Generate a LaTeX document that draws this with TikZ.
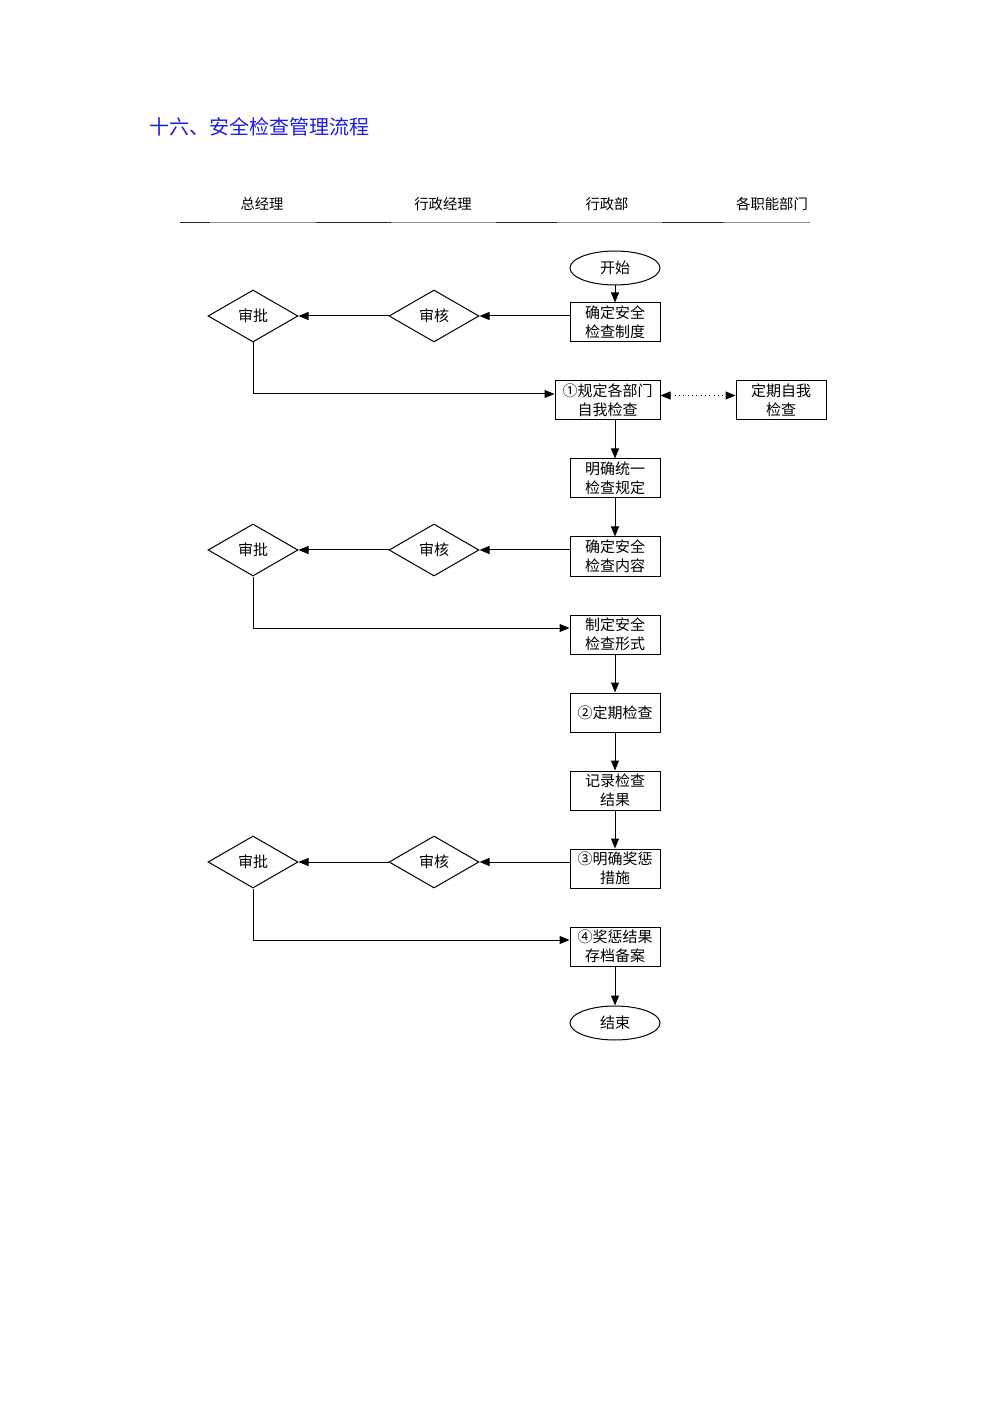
\documentclass[tikz,border=0pt]{standalone}
\usepackage{fontspec}
\newfontfamily\cjk{Noto Sans CJK SC}
\usetikzlibrary{positioning,shapes.geometric,arrows.meta}
\definecolor{titleblue}{RGB}{28,28,228}

\begin{document}
\begin{tikzpicture}[x=0.6pt, y=-0.6pt, line width=0.6pt,
        font=\cjk\fontsize{9pt}{11.4pt}\selectfont,
        >={Triangle[length=6pt, width=4.8pt]},
        box/.style={draw, rectangle, minimum width=54pt, minimum height=23.4pt, inner sep=0pt, align=center},
        oval/.style={draw, ellipse, minimum width=54pt, minimum height=20.4pt, inner sep=0pt},
        dia/.style={draw, diamond, aspect=1.7, minimum width=54pt, minimum height=31.2pt, inner sep=0pt},
        flow/.style={->}]
                \useasboundingbox (0,0) rectangle (992,1403);
                \node [anchor=west, text=titleblue, font=\cjk\fontsize{12pt}{14pt}\selectfont] (title) at (143,127) {十六、安全检查管理流程};

                \foreach \x/\t in {262/总经理, 443/行政经理, 607/行政部, 772/各职能部门}
                    \node [font=\cjk\fontsize{8.6pt}{10pt}\selectfont] (head\x) at (\x,204) {\t};
                \draw [black!45] (180,223) -- (810,223);
                \foreach \a/\b in {180/210, 316/391, 496/557, 662/723}
                    \draw [black!85] (\a,223) -- (\b,223);

                \node [oval] (start) at (615,268) {开始};
                \node [box, below=10.2pt of start] (zhidu) {确定安全\\检查制度};
                \node [box, minimum width=63pt, below=22.8pt of zhidu.south east, anchor=north east] (guiding) {①规定各部门\\自我检查};
                \node [box, right=45pt of guiding] (ziwo) {定期自我\\检查};
                \node [box, below=22.8pt of guiding.south east, anchor=north east] (tongyi) {明确统一\\检查规定};
                \node [box, below=22.8pt of tongyi] (neirong) {确定安全\\检查内容};
                \node [box, below=22.8pt of neirong] (xingshi) {制定安全\\检查形式};
                \node [box, below=22.8pt of xingshi] (dingqi) {②定期检查};
                \node [box, below=22.8pt of dingqi] (jilu) {记录检查\\结果};
                \node [box, below=22.8pt of jilu] (cuoshi) {③明确奖惩\\措施};
                \node [box, below=22.8pt of cuoshi] (cundang) {④奖惩结果\\存档备案};
                \node [oval, below=23.4pt of cundang] (end) {结束};

                \node [dia, left=54pt of zhidu.west, yshift=3.9pt] (shenhe1) {审核};
                \node [dia, left=54pt of shenhe1] (shenpi1) {审批};
                \node [dia, left=54pt of neirong.west, yshift=3.9pt] (shenhe2) {审核};
                \node [dia, left=54pt of shenhe2] (shenpi2) {审批};
                \node [dia, left=54pt of cuoshi.west, yshift=3.9pt] (shenhe3) {审核};
                \node [dia, left=54pt of shenhe3] (shenpi3) {审批};

                \draw [flow] (start) -- (zhidu);
                \draw [flow] (zhidu.west |- shenhe1) -- (shenhe1.east);
                \draw [flow] (shenhe1.west) -- (shenpi1.east);
                \draw [flow] (shenpi1.south) |- ([yshift=3.9pt]guiding.west);
                \draw [dotted, <->] ([yshift=3pt]guiding.east) -- ([yshift=3pt]ziwo.west);
                \draw [flow] (tongyi.north |- guiding.south) -- (tongyi);
                \draw [flow] (tongyi) -- (neirong);
                \draw [flow] (neirong.west |- shenhe2) -- (shenhe2.east);
                \draw [flow] (shenhe2.west) -- (shenpi2.east);
                \draw [flow] (shenpi2.south) |- ([yshift=3.9pt]xingshi.west);
                \draw [flow] (xingshi) -- (dingqi);
                \draw [flow] (dingqi) -- (jilu);
                \draw [flow] (jilu) -- (cuoshi);
                \draw [flow] (cuoshi.west |- shenhe3) -- (shenhe3.east);
                \draw [flow] (shenhe3.west) -- (shenpi3.east);
                \draw [flow] (shenpi3.south) |- ([yshift=3.9pt]cundang.west);
                \draw [flow] (cundang) -- (end);
\end{tikzpicture}
\end{document}
